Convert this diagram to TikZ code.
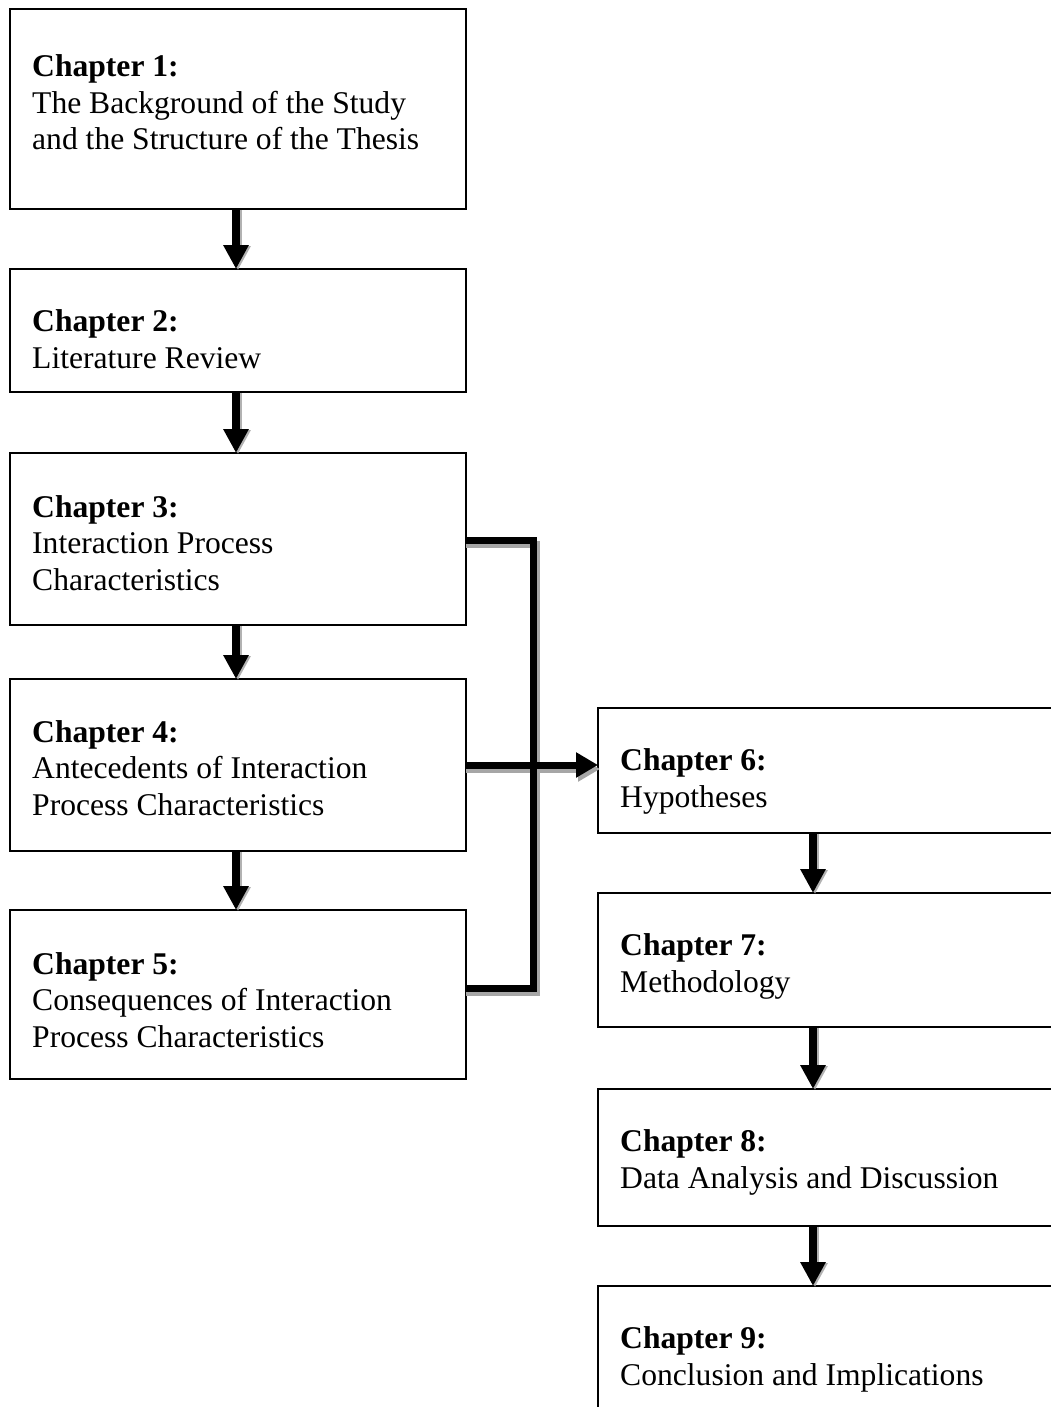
\documentclass[tikz,border=0pt]{standalone}
\usepackage{fontspec}
\setmainfont{Liberation Serif}
\usetikzlibrary{arrows.meta}
\begin{document}
\begin{tikzpicture}[x=1pt,y=-1pt,
  chapbox/.style={draw=black,line width=1.5pt,fill=white},
  % multi-line texts are placed by the baseline of their last line
  chaptext/.style={anchor=base west,align=left,inner sep=0pt,
    font=\fontsize{31.6}{36.5}\selectfont},
  flow/.style={line width=8pt,-{Triangle[width=24pt,length=24pt]}},
  shade/.style={draw=black!35,line width=7pt},
  link/.style={draw=black,line width=7pt}]
\useasboundingbox (0,0) rectangle (1051,1407);
\clip (0,0) rectangle (1051,1407);

% left column boxes
\draw[chapbox] (10,9) rectangle (466,209);
\draw[chapbox] (10,269) rectangle (466,392);
\draw[chapbox] (10,453) rectangle (466,625);
\draw[chapbox] (10,679) rectangle (466,851);
\draw[chapbox] (10,910) rectangle (466,1079);
% right column boxes (run past the right edge)
\draw[chapbox] (598,708) rectangle (1070,833);
\draw[chapbox] (598,893) rectangle (1070,1027);
\draw[chapbox] (598,1089) rectangle (1070,1226);
\draw[chapbox] (598,1286) rectangle (1070,1440);

% named anchor points for the connectors
\coordinate (c1s) at (236,209); \coordinate (c2n) at (236,269);
\coordinate (c2s) at (236,392); \coordinate (c3n) at (236,453);
\coordinate (c3s) at (236,625); \coordinate (c4n) at (236,679);
\coordinate (c4s) at (236,851); \coordinate (c5n) at (236,910);
\coordinate (c6s) at (813,833); \coordinate (c7n) at (813,893);
\coordinate (c7s) at (813,1027); \coordinate (c8n) at (813,1089);
\coordinate (c8s) at (813,1226); \coordinate (c9n) at (813,1286);
\coordinate (c3e) at (466,540); \coordinate (c4e) at (466,765);
\coordinate (c5e) at (466,988); \coordinate (c6w) at (598,765);
\coordinate (jt) at (533,540); \coordinate (jb) at (533,988);

% bracket joining chapters 3-5, with its soft shadow
\draw[shade] ([shift={(0,4)}]c3e) -- ([shift={(3,4)}]jt) -- ([shift={(3,4)}]jb) -- ([shift={(0,4)}]c5e);
\draw[shade,-{Triangle[width=24pt,length=22pt]}] ([shift={(0,4)}]c4e) -- ([shift={(2,4)}]c6w);
\draw[link] (c3e) -- (jt) -- (jb) -- (c5e);
\draw[link,-{Triangle[width=24pt,length=22pt]}] (c4e) -- (c6w);

% vertical flow arrows
\foreach \a/\b in {c1s/c2n,c2s/c3n,c3s/c4n,c4s/c5n,c6s/c7n,c7s/c8n,c8s/c9n}{
  \draw[flow,black!30] ([shift={(2,1)}]\a) -- ([shift={(2,1)}]\b);
  \draw[flow] (\a) -- (\b);
}

% chapter texts
\node[chaptext] (t1) at (32,150) {\textbf{Chapter 1:}\\The Background of the Study\\and the Structure of the Thesis};
\node[chaptext] (t2) at (32,368) {\textbf{Chapter 2:}\\Literature Review};
\node[chaptext] (t3) at (32,590) {\textbf{Chapter 3:}\\Interaction Process\\Characteristics};
\node[chaptext] (t4) at (32,815) {\textbf{Chapter 4:}\\Antecedents of Interaction\\Process Characteristics};
\node[chaptext] (t5) at (32,1047) {\textbf{Chapter 5:}\\Consequences of Interaction\\Process Characteristics};
\node[chaptext] (t6) at (620,807) {\textbf{Chapter 6:}\\Hypotheses};
\node[chaptext] (t7) at (620,992) {\textbf{Chapter 7:}\\Methodology};
\node[chaptext] (t8) at (620,1188) {\textbf{Chapter 8:}\\Data Analysis and Discussion};
\node[chaptext] (t9) at (620,1385) {\textbf{Chapter 9:}\\Conclusion and Implications};
\end{tikzpicture}
\end{document}
